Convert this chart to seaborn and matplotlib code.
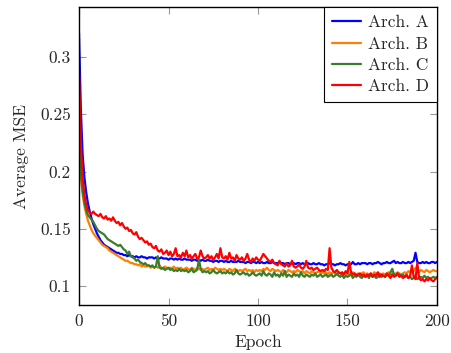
import matplotlib
matplotlib.use('Agg')
import matplotlib.pyplot as plt
import numpy as np
import pandas as pd
import seaborn as sns

# Average MSE per epoch (0..200)
arch_a = [
    0.321, 0.255, 0.215, 0.195, 0.182, 0.172, 0.165, 0.159, 0.154, 0.150, 0.146,
    0.143, 0.140, 0.138, 0.136, 0.135, 0.134, 0.133, 0.132, 0.131, 0.130,
    0.129, 0.129, 0.128, 0.128, 0.127, 0.127, 0.126, 0.127, 0.126, 0.126,
    0.125, 0.126, 0.125, 0.125, 0.126, 0.125, 0.125, 0.124, 0.125, 0.125,
    0.125, 0.124, 0.125, 0.124, 0.124, 0.125, 0.124, 0.124, 0.124, 0.123,
    0.124, 0.124, 0.123, 0.124, 0.123, 0.124, 0.123, 0.123, 0.124, 0.123,
    0.123, 0.123, 0.122, 0.123, 0.123, 0.122, 0.123, 0.122, 0.123, 0.122,
    0.122, 0.123, 0.122, 0.122, 0.121, 0.122, 0.122, 0.121, 0.122, 0.122,
    0.121, 0.122, 0.121, 0.121, 0.122, 0.121, 0.121, 0.121, 0.122, 0.121,
    0.121, 0.121, 0.120, 0.121, 0.121, 0.120, 0.121, 0.121, 0.120, 0.121,
    0.120, 0.121, 0.120, 0.120, 0.121, 0.120, 0.120, 0.121, 0.120, 0.120,
    0.120, 0.121, 0.120, 0.120, 0.119, 0.120, 0.120, 0.119, 0.120, 0.120,
    0.119, 0.120, 0.120, 0.119, 0.120, 0.119, 0.119, 0.120, 0.119, 0.119,
    0.120, 0.119, 0.119, 0.120, 0.119, 0.119, 0.118, 0.119, 0.119, 0.120,
    0.119, 0.119, 0.118, 0.119, 0.119, 0.120, 0.119, 0.119, 0.118, 0.119,
    0.119, 0.119, 0.121, 0.119, 0.119, 0.120, 0.119, 0.120, 0.120, 0.120,
    0.119, 0.120, 0.120, 0.119, 0.120, 0.120, 0.121, 0.120, 0.119, 0.120,
    0.120, 0.121, 0.120, 0.120, 0.121, 0.122, 0.120, 0.121, 0.120, 0.120,
    0.121, 0.120, 0.120, 0.121, 0.120, 0.121, 0.122, 0.129, 0.121, 0.120,
    0.120, 0.121, 0.120, 0.121, 0.120, 0.120, 0.121, 0.121, 0.120, 0.121,
]
arch_b = [
    0.220, 0.195, 0.180, 0.170, 0.163, 0.157, 0.153, 0.149, 0.146, 0.144, 0.142,
    0.140, 0.138, 0.136, 0.135, 0.134, 0.133, 0.131, 0.130, 0.129, 0.128,
    0.127, 0.126, 0.125, 0.124, 0.123, 0.122, 0.122, 0.121, 0.120, 0.120,
    0.119, 0.119, 0.118, 0.119, 0.117, 0.118, 0.117, 0.117, 0.118, 0.116,
    0.117, 0.116, 0.117, 0.116, 0.118, 0.116, 0.115, 0.117, 0.116, 0.115,
    0.116, 0.115, 0.117, 0.115, 0.116, 0.115, 0.116, 0.114, 0.115, 0.116,
    0.115, 0.114, 0.116, 0.115, 0.114, 0.116, 0.115, 0.114, 0.115, 0.114,
    0.115, 0.116, 0.114, 0.115, 0.114, 0.116, 0.115, 0.114, 0.115, 0.114,
    0.115, 0.114, 0.113, 0.115, 0.114, 0.113, 0.115, 0.114, 0.113, 0.114,
    0.113, 0.114, 0.115, 0.113, 0.114, 0.113, 0.114, 0.112, 0.114, 0.113,
    0.114, 0.113, 0.115, 0.114, 0.116, 0.114, 0.113, 0.115, 0.114, 0.113,
    0.114, 0.113, 0.112, 0.114, 0.113, 0.112, 0.114, 0.113, 0.112, 0.113,
    0.112, 0.114, 0.113, 0.112, 0.113, 0.111, 0.113, 0.112, 0.111, 0.113,
    0.112, 0.111, 0.112, 0.113, 0.111, 0.112, 0.111, 0.112, 0.110, 0.112,
    0.111, 0.112, 0.111, 0.110, 0.112, 0.111, 0.110, 0.111, 0.112, 0.110,
    0.111, 0.110, 0.112, 0.111, 0.110, 0.111, 0.110, 0.111, 0.112, 0.110,
    0.111, 0.110, 0.111, 0.110, 0.112, 0.111, 0.110, 0.111, 0.110, 0.111,
    0.110, 0.111, 0.112, 0.110, 0.111, 0.110, 0.111, 0.112, 0.111, 0.110,
    0.111, 0.112, 0.111, 0.113, 0.112, 0.114, 0.113, 0.116, 0.113, 0.112,
    0.114, 0.113, 0.112, 0.114, 0.113, 0.112, 0.113, 0.114, 0.113, 0.113,
]
arch_c = [
    0.240, 0.200, 0.183, 0.173, 0.166, 0.162, 0.160, 0.158, 0.156, 0.153, 0.150,
    0.148, 0.147, 0.146, 0.145, 0.143, 0.141, 0.140, 0.139, 0.138, 0.137,
    0.136, 0.135, 0.136, 0.134, 0.132, 0.131, 0.128, 0.130, 0.126, 0.125,
    0.124, 0.122, 0.123, 0.121, 0.120, 0.119, 0.120, 0.118, 0.118, 0.117,
    0.118, 0.116, 0.117, 0.126, 0.116, 0.115, 0.116, 0.114, 0.115, 0.116,
    0.114, 0.115, 0.113, 0.114, 0.113, 0.115, 0.113, 0.114, 0.113, 0.114,
    0.112, 0.113, 0.115, 0.112, 0.113, 0.114, 0.123, 0.115, 0.112, 0.113,
    0.112, 0.113, 0.111, 0.112, 0.114, 0.112, 0.111, 0.112, 0.113, 0.111,
    0.112, 0.111, 0.113, 0.111, 0.112, 0.110, 0.111, 0.114, 0.111, 0.110,
    0.111, 0.112, 0.110, 0.111, 0.109, 0.110, 0.112, 0.110, 0.109, 0.110,
    0.111, 0.109, 0.113, 0.110, 0.109, 0.111, 0.110, 0.108, 0.112, 0.109,
    0.110, 0.108, 0.111, 0.109, 0.113, 0.108, 0.110, 0.109, 0.108, 0.111,
    0.109, 0.110, 0.108, 0.112, 0.109, 0.108, 0.110, 0.109, 0.108, 0.110,
    0.109, 0.111, 0.108, 0.109, 0.110, 0.108, 0.109, 0.110, 0.108, 0.109,
    0.110, 0.108, 0.109, 0.111, 0.109, 0.108, 0.110, 0.107, 0.109, 0.108,
    0.109, 0.110, 0.107, 0.109, 0.108, 0.110, 0.108, 0.107, 0.109, 0.108,
    0.109, 0.107, 0.110, 0.108, 0.109, 0.107, 0.108, 0.110, 0.108, 0.109,
    0.108, 0.110, 0.109, 0.112, 0.115, 0.110, 0.109, 0.111, 0.110, 0.109,
    0.110, 0.108, 0.109, 0.107, 0.108, 0.106, 0.107, 0.108, 0.106, 0.107,
    0.108, 0.107, 0.109, 0.107, 0.108, 0.106, 0.107, 0.108, 0.107, 0.108,
]
arch_d = [
    0.289, 0.225, 0.195, 0.180, 0.171, 0.166, 0.164, 0.163, 0.165, 0.163, 0.162,
    0.161, 0.163, 0.160, 0.159, 0.161, 0.158, 0.159, 0.157, 0.160, 0.157,
    0.155, 0.156, 0.153, 0.155, 0.152, 0.150, 0.151, 0.148, 0.149, 0.146,
    0.145, 0.147, 0.143, 0.141, 0.142, 0.140, 0.138, 0.139, 0.136, 0.137,
    0.134, 0.133, 0.135, 0.131, 0.130, 0.132, 0.128, 0.129, 0.131, 0.127,
    0.130, 0.126, 0.128, 0.133, 0.126, 0.127, 0.125, 0.129, 0.126, 0.131,
    0.125, 0.127, 0.124, 0.126, 0.128, 0.124, 0.125, 0.131, 0.126, 0.124,
    0.125, 0.127, 0.124, 0.126, 0.123, 0.125, 0.128, 0.124, 0.133, 0.125,
    0.124, 0.126, 0.123, 0.129, 0.124, 0.125, 0.122, 0.127, 0.124, 0.123,
    0.125, 0.122, 0.124, 0.128, 0.123, 0.121, 0.124, 0.122, 0.125, 0.123,
    0.122, 0.125, 0.128, 0.126, 0.124, 0.122, 0.121, 0.123, 0.120, 0.119,
    0.118, 0.122, 0.119, 0.118, 0.117, 0.120, 0.117, 0.118, 0.122, 0.117,
    0.116, 0.117, 0.119, 0.116, 0.115, 0.117, 0.122, 0.116, 0.115, 0.116,
    0.114, 0.115, 0.116, 0.114, 0.113, 0.114, 0.113, 0.115, 0.114, 0.133,
    0.116, 0.113, 0.112, 0.114, 0.112, 0.111, 0.112, 0.110, 0.113, 0.111,
    0.121, 0.112, 0.110, 0.111, 0.109, 0.110, 0.111, 0.109, 0.110, 0.108,
    0.110, 0.109, 0.111, 0.108, 0.110, 0.109, 0.112, 0.108, 0.110, 0.109,
    0.108, 0.111, 0.109, 0.107, 0.110, 0.108, 0.109, 0.111, 0.108, 0.109,
    0.107, 0.108, 0.110, 0.107, 0.109, 0.118, 0.108, 0.106, 0.120, 0.107,
    0.105, 0.106, 0.104, 0.106, 0.105, 0.107, 0.105, 0.104, 0.106, 0.107,
]
labels = ['Arch. A', 'Arch. B', 'Arch. C', 'Arch. D']
colors = ['#0000ff', '#ff8000', '#3a7d2c', '#ff0000']
x_ticks = [0, 50, 100, 150, 200]
y_ticks = [0.1, 0.15, 0.2, 0.25, 0.3]

epochs = np.arange(len(arch_a))
df = pd.concat([
    pd.DataFrame({'epoch': epochs, 'mse': vals, 'arch': lab})
    for vals, lab in zip([arch_a, arch_b, arch_c, arch_d], labels)
])

sns.set_style('ticks')
plt.rcParams['font.family'] = ['cmr10', 'DejaVu Serif']
plt.rcParams['mathtext.fontset'] = 'cm'
plt.rcParams['axes.unicode_minus'] = False

fig = plt.figure(figsize=(4.52, 3.53), dpi=100)
ax = fig.add_axes([0.1748, 0.136, 0.792, 0.844])

sns.lineplot(data=df, x='epoch', y='mse', hue='arch', hue_order=labels,
             palette=colors, linewidth=1.6, ax=ax, legend=False)

ax.set_xlim(0, 200)
ax.set_ylim(0.0834, 0.3437)
ax.set_xticks(x_ticks)
ax.set_xticklabels([str(t) for t in x_ticks])
ax.set_yticks(y_ticks)
ax.set_yticklabels([f'{t:g}' for t in y_ticks])
ax.tick_params(direction='in', length=5, width=0.8, color='0.6',
               top=True, right=True, labelsize=12.5, pad=6)
for s in ax.spines.values():
    s.set_linewidth(1.0)
    s.set_color('black')

ax.set_xlabel('Epoch', fontsize=12.5, labelpad=4)
ax.set_ylabel('Average MSE', fontsize=12.5, labelpad=8)

handles = [plt.Line2D([], [], color=c, linewidth=1.6) for c in colors]
leg = ax.legend(handles, labels, loc='upper right', fontsize=12.5,
                frameon=True, fancybox=False, framealpha=1, edgecolor='black',
                borderaxespad=0, handlelength=1.7, handletextpad=0.4,
                labelspacing=0.35, borderpad=0.45)
leg.get_frame().set_linewidth(0.8)

fig.savefig('out.png', dpi=100)
